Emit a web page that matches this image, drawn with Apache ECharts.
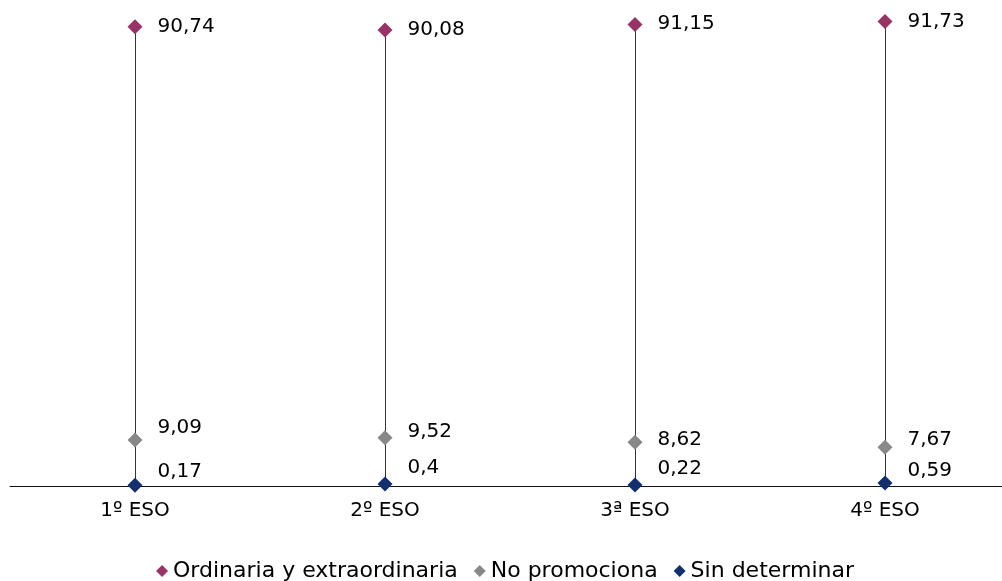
<!DOCTYPE html>
<html>
<head>
    <meta charset="UTF-8">
    <title>Promoción ESO</title>
    <script src="https://cdn.jsdelivr.net/npm/echarts@6/dist/echarts.min.js"></script>
    <style>
        html, body { margin: 0; padding: 0; background: #fff; overflow: hidden; }
        #chart { width: 1010px; height: 581px; }
    </style>
</head>
<body>
    <div id="chart"></div>
    <script type="text/javascript">
        // data
        var courses = ['1º ESO', '2º ESO', '3ª ESO', '4º ESO'];
        var ordinaria = [90.74, 90.08, 91.15, 91.73];
        var noPromociona = [9.09, 9.52, 8.62, 7.67];
        var sinDeterminar = [0.17, 0.4, 0.22, 0.59];
        var seriesNames = ['Ordinaria y extraordinaria', 'No promociona', 'Sin determinar'];

        // vertical nudges for the value labels (px)
        var shiftTop = [0, 0, -1, 0];
        var shiftMid = [-12, -6, -3, -7];
        var shiftLow = [-13, -16, -16, -12];

        var FONT = 'DejaVu Sans';
        var colors = ['#993366', '#888888', '#12306e'];

        function formatNum(v) {
            return String(v).replace('.', ',');
        }

        function buildPoints(values, shifts) {
            return values.map(function (v, i) {
                return {
                    value: v,
                    label: { offset: [0, shifts[i]] }
                };
            });
        }

        function pointSeries(name, values, shifts, color) {
            return {
                name: name,
                type: 'line',
                data: buildPoints(values, shifts),
                lineStyle: { width: 0, opacity: 0 },
                symbol: 'diamond',
                symbolSize: 15,
                itemStyle: { color: color },
                z: 5,
                silent: true,
                label: {
                    show: true,
                    position: 'right',
                    distance: 15,
                    color: '#000',
                    fontFamily: FONT,
                    fontSize: 20,
                    formatter: function (p) { return formatNum(p.value); }
                }
            };
        }

        // high-low line for each course
        var hiLow = courses.map(function (c, i) {
            var vals = [ordinaria[i], noPromociona[i], sinDeterminar[i]];
            return [i, Math.min.apply(null, vals), Math.max.apply(null, vals)];
        });

        var chart = echarts.init(document.getElementById('chart'), null, { renderer: 'canvas' });

        var option = {
            animation: false,
            backgroundColor: '#fff',
            grid: { left: 10, right: 0, top: 0, bottom: 95 },
            legend: {
                data: seriesNames,
                top: 555,
                left: 'center',
                icon: 'diamond',
                itemWidth: 12,
                itemHeight: 12,
                itemGap: 16,
                textStyle: { fontFamily: FONT, fontSize: 22, color: '#000' }
            },
            xAxis: {
                type: 'category',
                data: courses,
                axisLine: { lineStyle: { color: '#111', width: 1 } },
                axisTick: { show: false },
                axisLabel: { color: '#000', fontFamily: FONT, fontSize: 20, margin: 15 }
            },
            yAxis: {
                type: 'value',
                min: 0,
                max: 96,
                show: false,
                splitLine: { show: false }
            },
            series: [
                {
                    type: 'custom',
                    silent: true,
                    data: hiLow,
                    encode: { x: 0, y: [1, 2] },
                    z: 1,
                    renderItem: function (params, api) {
                        var lo = api.coord([api.value(0), api.value(1)]);
                        var hi = api.coord([api.value(0), api.value(2)]);
                        var x = Math.round(lo[0]) + 0.5;
                        return {
                            type: 'line',
                            shape: { x1: x, y1: lo[1], x2: x, y2: hi[1] },
                            style: { stroke: '#333', lineWidth: 1 }
                        };
                    }
                },
                pointSeries(seriesNames[0], ordinaria, shiftTop, colors[0]),
                pointSeries(seriesNames[1], noPromociona, shiftMid, colors[1]),
                pointSeries(seriesNames[2], sinDeterminar, shiftLow, colors[2])
            ]
        };

        chart.setOption(option);
    </script>
</body>
</html>
